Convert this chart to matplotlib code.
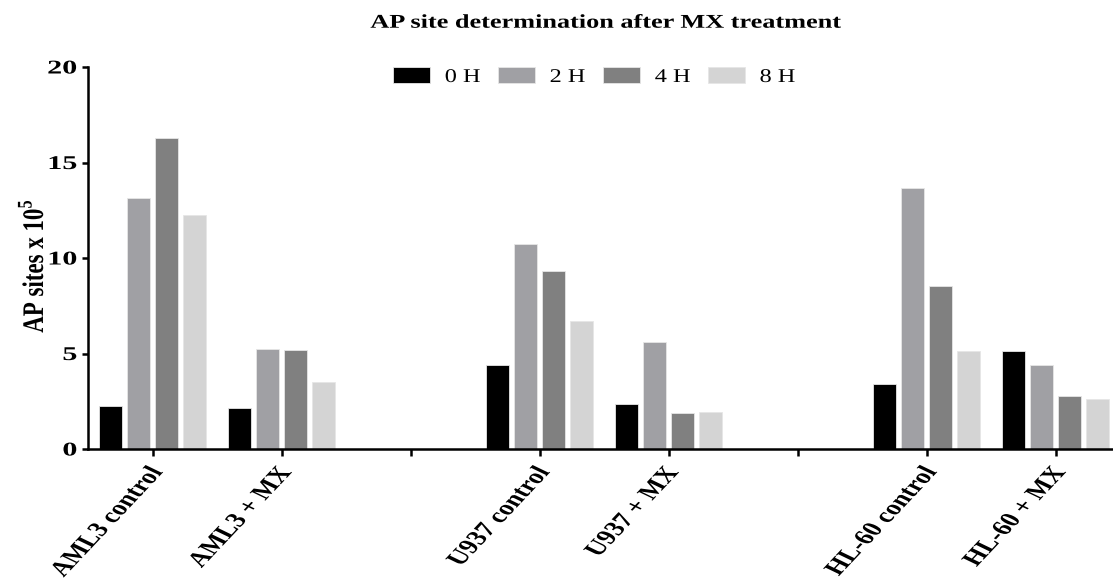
import matplotlib
matplotlib.use("Agg")
import matplotlib.pyplot as plt
import numpy as np
from matplotlib.patheffects import AbstractPathEffect
from matplotlib.transforms import Affine2D, ScaledTranslation

# Groups along the x axis (empty strings are spacer slots between cell lines)
categories = ["AML3 control", "AML3 + MX", "", "U937 control", "U937 + MX", "",
              "HL-60 control", "HL-60 + MX"]
series_names = ["0 H", "2 H", "4 H", "8 H"]

# AP sites x 10^5 per time point (None = empty slot)
h0 = [2.27, 2.15, None, 4.41, 2.34, None, 3.39, 5.11]
h2 = [13.14, 5.24, None, 10.73, 5.60, None, 13.65, 4.38]
h4 = [16.28, 5.17, None, 9.32, 1.87, None, 8.53, 2.76]
h8 = [12.24, 3.52, None, 6.70, 1.95, None, 5.11, 2.60]

yticks = [0, 5, 10, 15, 20]

colors = ["#000000", "#A0A0A4", "#808080", "#D4D4D4"]


class Widen(AbstractPathEffect):
    """Draw text horizontally widened by `factor` about its left/center/right edge."""

    def __init__(self, factor=1.4, anchor="center"):
        super().__init__()
        self.factor = factor
        self.anchor = anchor

    def draw_path(self, renderer, gc, tpath, affine, rgbFace=None):
        if len(tpath.vertices) == 0:
            return
        ext = tpath.get_extents(affine)
        x0 = {"left": ext.x0, "right": ext.x1,
              "center": 0.5 * (ext.x0 + ext.x1)}[self.anchor]
        wide = affine + Affine2D().translate(-x0, 0).scale(self.factor, 1).translate(x0, 0)
        renderer.draw_path(gc, tpath, wide, rgbFace)


plt.rcParams["font.family"] = ["Liberation Serif", "DejaVu Serif"]
plt.rcParams["mathtext.fontset"] = "custom"
plt.rcParams["mathtext.rm"] = "Liberation Serif"
plt.rcParams["mathtext.bf"] = "Liberation Serif:bold"

W, H = 1113, 583
fig = plt.figure(figsize=(W / 100, H / 100), dpi=100)
ax = fig.add_axes([88 / W, 134 / H, 1032 / W, 382 / H])

x = np.arange(len(categories))
step = 0.215
width = 0.178
for i, (vals, name, col) in enumerate(zip([h0, h2, h4, h8], series_names, colors)):
    xs = [xi + (i - 1.5) * step for xi, v in zip(x, vals) if v is not None]
    vs = [v for v in vals if v is not None]
    ax.bar(xs, vs, width=width, color=col, edgecolor="#E6E6E6", linewidth=0.6,
           label=name)

ax.set_xlim(-0.5, 7.5)
ax.set_ylim(0, 20)

for side in ["top", "right"]:
    ax.spines[side].set_visible(False)
for side in ["left", "bottom"]:
    ax.spines[side].set_linewidth(1.8)

ax.set_yticks(yticks)
ax.set_yticklabels([str(t) for t in yticks], fontsize=14, fontweight="bold")
ax.tick_params(axis="y", direction="out", width=1.8, length=4.3, pad=3.6)
for lbl in ax.get_yticklabels():
    lbl.set_path_effects([Widen(1.55, "right")])

ax.set_xticks(x)
ax.set_xticklabels(categories, rotation=56, ha="right", va="center",
                   rotation_mode="anchor", fontsize=15, fontweight="bold")
ax.tick_params(axis="x", direction="out", width=1.8, length=5, pad=2)
shift = ScaledTranslation(7 / 100, -10 / 100, fig.dpi_scale_trans)
for lbl in ax.get_xticklabels():
    lbl.set_transform(lbl.get_transform() + shift)
    lbl.set_path_effects([Widen(1.4, "right")])

ax.set_ylabel(r"AP sites x 10$^{\mathbf{5}}$", fontsize=16.5, fontweight="bold",
              va="center")
ax.yaxis.set_label_coords((33 - 88) / 1032, 0.479)
ax.yaxis.label.set_path_effects([Widen(1.3, "center")])

title = fig.text(606 / W, (H - 27.7) / H, "AP site determination after MX treatment",
                 ha="center", va="baseline", fontsize=14, fontweight="bold")
title.set_path_effects([Widen(1.35, "center")])

leg = ax.legend(loc="lower left", bbox_to_anchor=(393 / W, (H - 86) / H),
                bbox_transform=fig.transFigure, ncol=4, frameon=False,
                fontsize=14, handlelength=1.9, handleheight=0.88,
                handletextpad=0.77, columnspacing=1.24, borderpad=0,
                borderaxespad=0)
for t in leg.get_texts():
    t.set_path_effects([Widen(1.25, "left")])

fig.savefig("out.png", dpi=100)
